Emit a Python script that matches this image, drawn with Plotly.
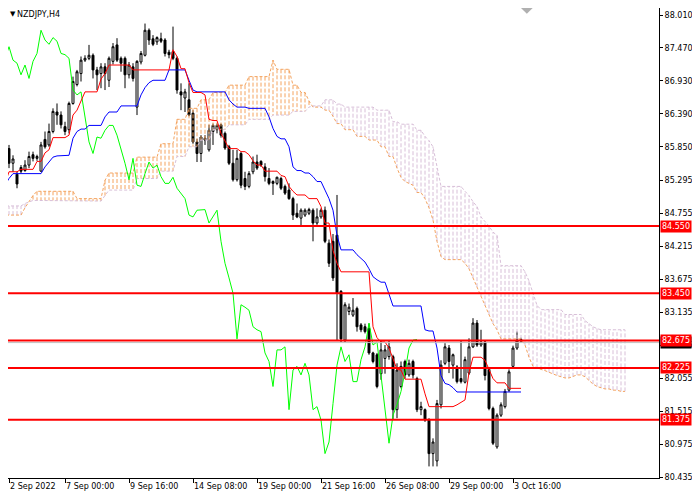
import plotly.graph_objects as go

# H4 candles, bar 0 = 2 Sep 2022 08:00
opens = [
    85.44, 85.44, 85.82, 85.58, 85.40, 85.51, 85.46, 85.55, 85.72, 85.66,
    85.45, 85.97, 85.88, 86.10, 86.42, 86.37, 86.18, 86.13, 86.56, 86.87,
    87.05, 87.27, 87.30, 87.35, 87.11, 87.05, 87.16, 86.94, 87.25, 87.52,
    87.30, 87.30, 87.03, 87.16, 86.50, 87.24, 87.35, 87.76, 87.62, 87.57,
    87.62, 87.60, 87.40, 87.41, 87.30, 86.75, 86.65, 86.62, 86.40, 85.93,
    85.74, 85.96, 85.80, 86.10, 86.13, 86.21, 86.07, 85.85, 85.58, 85.31,
    85.74, 85.33, 85.20, 85.44, 85.60, 85.61, 85.52, 85.33, 85.28, 85.25,
    85.33, 85.20, 85.14, 85.00, 84.76, 84.68, 84.73, 84.76, 84.81, 84.60,
    84.70, 84.81, 84.27, 84.30, 84.40, 83.48, 82.68, 83.15, 83.09, 83.20,
    82.93, 82.90, 82.87, 82.47, 82.44, 82.13, 82.38, 82.41, 82.41, 81.54,
    81.92, 82.33, 82.11, 82.33, 82.05, 81.54, 81.54, 81.37, 80.82, 80.70,
    81.62, 82.30, 82.55, 82.27, 82.24, 82.05, 81.99, 82.14, 82.57, 82.96,
    82.60, 82.65, 82.20, 81.56, 80.93, 81.45, 81.59, 81.86, 82.25, 82.55,
    82.67,
]
highs = [
    85.47, 85.85, 85.88, 85.71, 85.44, 85.55, 85.63, 85.77, 85.77, 85.72,
    85.93, 86.10, 86.23, 86.48, 86.56, 86.43, 86.26, 86.59, 87.00, 87.11,
    87.33, 87.35, 87.52, 87.38, 87.16, 87.22, 87.22, 87.33, 87.55, 87.63,
    87.33, 87.33, 87.24, 87.22, 87.27, 87.42, 87.87, 87.79, 87.68, 87.66,
    87.72, 87.63, 87.44, 87.82, 87.33, 86.89, 86.80, 86.89, 86.45, 85.98,
    86.04, 86.04, 86.21, 86.23, 86.23, 86.23, 86.10, 85.88, 85.80, 85.80,
    85.77, 85.44, 85.45, 85.69, 85.72, 85.63, 85.58, 85.50, 85.30, 85.36,
    85.36, 85.23, 85.25, 85.03, 84.92, 84.84, 84.84, 84.85, 84.84, 84.84,
    84.84, 84.87, 84.33, 84.42, 85.06, 83.50, 83.30, 83.28, 83.37, 83.23,
    82.96, 82.95, 82.95, 82.49, 82.47, 82.68, 82.60, 82.68, 82.44, 82.30,
    82.33, 82.36, 82.36, 82.36, 82.08, 81.67, 81.56, 81.40, 81.07, 81.70,
    82.35, 82.63, 82.60, 82.46, 82.27, 82.68, 82.41, 82.71, 83.04, 83.01,
    82.85, 82.68, 82.24, 81.59, 81.48, 81.66, 81.88, 82.20, 82.59, 82.82,
    82.72,
]
lows = [
    84.98, 85.41, 85.50, 85.44, 85.17, 85.42, 85.44, 85.50, 85.61, 85.62,
    85.44, 85.82, 85.85, 86.07, 86.21, 86.15, 86.04, 86.07, 86.54, 86.84,
    86.92, 87.24, 87.27, 86.97, 86.78, 86.81, 86.78, 86.83, 87.20, 87.24,
    87.08, 86.81, 86.97, 86.92, 86.37, 87.20, 87.33, 87.52, 87.50, 87.52,
    87.55, 87.33, 87.30, 87.27, 86.72, 86.45, 86.42, 86.35, 85.90, 85.60,
    85.60, 85.88, 85.77, 85.88, 86.07, 86.00, 85.80, 85.55, 85.28, 85.28,
    85.17, 85.14, 85.17, 85.40, 85.47, 85.52, 85.28, 85.22, 85.06, 85.22,
    85.14, 85.06, 84.98, 84.65, 84.68, 84.54, 84.70, 84.73, 84.30, 84.57,
    84.67, 84.27, 83.88, 83.65, 82.68, 82.65, 82.65, 83.09, 83.06, 82.82,
    82.81, 82.79, 82.44, 82.30, 81.89, 82.03, 82.13, 82.36, 81.37, 81.40,
    81.89, 82.05, 82.08, 82.05, 81.50, 81.45, 81.34, 80.61, 80.61, 80.61,
    81.56, 82.27, 82.14, 82.05, 81.97, 81.97, 81.97, 82.11, 82.55, 82.57,
    82.57, 82.02, 81.53, 80.96, 80.90, 81.42, 81.56, 81.83, 82.22, 82.52,
    82.64,
]
closes = [
    85.06, 85.82, 85.58, 85.65, 85.24, 85.45, 85.55, 85.69, 85.66, 85.69,
    85.88, 85.85, 86.10, 86.43, 86.37, 86.21, 86.10, 86.56, 86.92, 87.08,
    87.27, 87.30, 87.35, 87.11, 87.03, 87.16, 87.05, 87.30, 87.49, 87.27,
    87.22, 87.03, 87.19, 86.97, 87.25, 87.38, 87.76, 87.60, 87.53, 87.64,
    87.58, 87.38, 87.36, 87.30, 86.78, 86.70, 86.75, 86.37, 85.93, 85.74,
    86.01, 85.99, 86.12, 86.20, 86.20, 86.04, 85.83, 85.58, 85.31, 85.66,
    85.22, 85.20, 85.41, 85.60, 85.50, 85.55, 85.36, 85.25, 85.25, 85.35,
    85.17, 85.09, 85.00, 84.73, 84.70, 84.81, 84.81, 84.82, 84.60, 84.70,
    84.81, 84.30, 83.94, 83.70, 83.45, 82.70, 83.26, 83.22, 83.17, 82.90,
    82.85, 82.82, 82.47, 82.33, 81.92, 82.52, 82.52, 82.57, 81.54, 82.19,
    82.25, 82.11, 82.30, 82.11, 81.54, 81.59, 81.37, 80.82, 81.01, 81.64,
    82.27, 82.57, 82.33, 82.44, 82.00, 82.00, 82.36, 82.57, 82.96, 82.60,
    82.65, 82.10, 81.56, 80.99, 81.45, 81.62, 81.84, 82.16, 82.55, 82.68,
    82.69,
]

tenkan = [
    85.05, 85.25, 85.44, 85.44, 85.44, 85.48, 85.48, 85.48, 85.48, 85.61,
    85.61, 85.75, 85.80, 86.00, 86.00, 86.00, 86.00, 86.04, 86.37, 86.45,
    86.60, 86.75, 86.75, 86.75, 86.75, 86.96, 87.05, 87.19, 87.19, 87.19,
    87.19, 87.19, 87.19, 87.11, 87.11, 87.11, 87.11, 87.11, 87.11, 87.11,
    87.11, 87.11, 87.11, 87.44, 87.33, 87.13, 87.13, 86.90, 86.74, 86.74,
    86.74, 86.70, 86.30, 86.28, 86.28, 86.07, 85.95, 85.82, 85.82, 85.82,
    85.77, 85.77, 85.72, 85.62, 85.55, 85.55, 85.45, 85.45, 85.45, 85.45,
    85.38, 85.36, 85.20, 85.12, 85.06, 85.06, 85.06, 85.00, 85.00, 85.00,
    84.87, 84.60, 84.60, 84.15, 83.94, 83.80, 83.80, 83.80, 83.80, 83.80,
    83.80, 83.80, 83.80, 82.90, 82.72, 82.65, 82.65, 82.55, 82.38, 82.20,
    82.19, 82.04, 82.04, 82.04, 82.04, 82.04, 81.80, 81.59, 81.59, 81.59,
    81.59, 81.59, 81.59, 81.59, 81.62, 81.66, 81.70, 82.15, 82.40, 82.40,
    82.40, 82.35, 82.20, 82.05, 81.98, 81.98, 81.98, 81.89, 81.89, 81.89,
    81.89,
]
kijun = [
    85.11, 85.22, 85.33, 85.41, 85.41, 85.41, 85.41, 85.41, 85.41, 85.41,
    85.41, 85.52, 85.60, 85.68, 85.70, 85.70, 85.70, 85.71, 85.99, 86.10,
    86.14, 86.14, 86.20, 86.20, 86.20, 86.20, 86.34, 86.42, 86.42, 86.42,
    86.52, 86.52, 86.52, 86.52, 86.52, 86.70, 86.82, 86.90, 86.94, 86.94,
    86.94, 86.94, 87.11, 87.11, 87.11, 87.11, 87.11, 86.94, 86.78, 86.75,
    86.75, 86.75, 86.75, 86.75, 86.75, 86.75, 86.75, 86.62, 86.55, 86.50,
    86.50, 86.50, 86.48, 86.48, 86.48, 86.48, 86.48, 86.34, 86.15, 86.02,
    85.98, 85.98, 85.85, 85.52, 85.46, 85.46, 85.42, 85.42, 85.36, 85.28,
    85.28, 85.14, 85.00, 84.81, 84.40, 84.16, 84.16, 84.16, 84.16, 84.08,
    84.02, 83.96, 83.85, 83.72, 83.67, 83.63, 83.63, 83.45, 83.24, 83.24,
    83.24, 83.24, 83.24, 83.24, 83.24, 83.24, 82.85, 82.83, 82.83, 82.55,
    82.10, 81.97, 81.95, 81.90, 81.83, 81.83, 81.83, 81.83, 81.83, 81.83,
    81.83, 81.83, 81.83, 81.83, 81.83, 81.83, 81.83, 81.83, 81.83, 81.83,
    81.83,
]
# cloud runs 26 bars past the last candle
span_a = [
    84.73, 84.73, 84.73, 84.73, 84.73, 84.73, 84.85, 84.95, 85.05, 85.12,
    85.12, 85.12, 85.12, 85.12, 85.12, 85.12, 85.12, 85.12, 85.12, 85.00,
    85.00, 85.00, 85.00, 85.00, 85.00, 85.00, 85.30, 85.42, 85.42, 85.42,
    85.42, 85.42, 85.42, 85.42, 85.68, 85.68, 85.68, 85.68, 85.68, 85.68,
    85.90, 85.90, 85.90, 85.90, 86.30, 86.30, 86.30, 86.48, 86.48, 86.48,
    86.62, 86.62, 86.62, 86.74, 86.74, 86.74, 86.74, 86.86, 86.86, 86.86,
    86.86, 86.86, 87.00, 87.00, 87.00, 87.00, 87.00, 87.00, 87.27, 87.12,
    87.12, 87.12, 87.12, 86.86, 86.86, 86.74, 86.74, 86.60, 86.50, 86.50,
    86.50, 86.45, 86.45, 86.35, 86.23, 86.23, 86.13, 86.13, 86.13, 86.02,
    86.02, 86.02, 85.96, 85.96, 85.96, 85.85, 85.85, 85.69, 85.69, 85.50,
    85.35, 85.28, 85.25, 85.22, 85.10, 85.10, 85.00, 84.85, 84.65, 84.30,
    84.05, 84.00, 84.00, 84.00, 84.00, 84.00, 83.94, 83.85, 83.70, 83.55,
    83.40, 83.25, 83.10, 82.95, 82.85, 82.70, 82.70, 82.70, 82.70, 82.70,
    82.70, 82.60, 82.40, 82.25, 82.22, 82.20, 82.18, 82.15, 82.13, 82.10,
    82.08, 82.06, 82.06, 82.08, 82.11, 82.11, 82.08, 82.02, 81.96, 81.92,
    81.90, 81.88, 81.88, 81.86, 81.86, 81.84, 81.84,
]
span_b = [
    84.88, 84.88, 84.88, 84.88, 84.88, 84.88, 84.92, 84.95, 84.97, 84.97,
    84.97, 84.97, 84.97, 84.97, 84.97, 84.97, 84.97, 84.97, 84.97, 84.96,
    84.96, 84.96, 84.96, 84.96, 84.96, 84.96, 85.05, 85.14, 85.14, 85.14,
    85.14, 85.14, 85.14, 85.14, 85.33, 85.33, 85.33, 85.33, 85.33, 85.33,
    85.45, 85.45, 85.45, 85.45, 85.69, 85.69, 85.69, 85.85, 85.85, 85.85,
    85.96, 85.96, 85.96, 86.13, 86.13, 86.13, 86.13, 86.21, 86.21, 86.21,
    86.21, 86.21, 86.30, 86.30, 86.30, 86.30, 86.30, 86.30, 86.37, 86.37,
    86.37, 86.37, 86.37, 86.43, 86.43, 86.43, 86.43, 86.50, 86.52, 86.52,
    86.52, 86.62, 86.62, 86.62, 86.55, 86.55, 86.50, 86.50, 86.50, 86.50,
    86.50, 86.50, 86.50, 86.50, 86.45, 86.45, 86.45, 86.45, 86.26, 86.26,
    86.22, 86.22, 86.22, 86.22, 86.12, 86.12, 86.02, 85.95, 85.85, 85.50,
    85.20, 85.20, 85.20, 85.20, 85.20, 85.20, 85.12, 85.05, 84.95, 84.87,
    84.70, 84.62, 84.55, 84.45, 84.40, 83.90, 83.90, 83.90, 83.90, 83.90,
    83.90, 83.80, 83.65, 83.45, 83.25, 83.18, 83.18, 83.18, 83.18, 83.18,
    83.18, 83.10, 83.10, 83.10, 83.10, 83.10, 83.00, 82.95, 82.90, 82.87,
    82.85, 82.85, 82.85, 82.85, 82.85, 82.85, 82.85,
]

levels = [84.550, 83.450, 82.675, 82.225, 81.375]
bid = 82.640

price_ticks = [88.010, 87.470, 86.930, 86.390, 85.850, 85.295, 84.755, 84.215,
               83.675, 83.135, 82.595, 82.055, 81.515, 80.975, 80.435]
# first label sits on the first bar left visible in the window
time_ticks = [2, 16, 32, 48, 64, 80, 96, 112, 128]
time_labels = ["2 Sep 2022", "7 Sep 00:00", "9 Sep 16:00", "14 Sep 08:00",
               "19 Sep 00:00", "21 Sep 16:00", "26 Sep 08:00", "29 Sep 00:00",
               "3 Oct 16:00"]

SHIFT = 26
FONT = "DejaVu Sans"
HATCH = "4px,2px"

bars = list(range(len(closes)))

# vertical dotted hatch of the cloud, one stroke per bar
up_x, up_y, dn_x, dn_y = [], [], [], []
for i, (a, b) in enumerate(zip(span_a, span_b)):
    if a >= b:
        up_x += [i, i, None]
        up_y += [a, b, None]
    else:
        dn_x += [i, i, None]
        dn_y += [a, b, None]

fig = go.Figure()
fig.add_trace(go.Scatter(x=up_x, y=up_y, mode="lines",
                         line=dict(color="#F4A460", width=1, dash=HATCH)))
fig.add_trace(go.Scatter(x=dn_x, y=dn_y, mode="lines",
                         line=dict(color="#D8BFD8", width=1, dash=HATCH)))
cloud_x = list(range(len(span_a)))
fig.add_trace(go.Scatter(x=cloud_x, y=span_a, mode="lines",
                         line=dict(color="#F4A460", width=1, dash="3px,2px")))
fig.add_trace(go.Scatter(x=cloud_x, y=span_b, mode="lines",
                         line=dict(color="#D8BFD8", width=1, dash="3px,2px")))

fig.add_trace(go.Candlestick(
    x=bars, open=opens, high=highs, low=lows, close=closes,
    increasing=dict(line=dict(color="black", width=1), fillcolor="white"),
    decreasing=dict(line=dict(color="black", width=1), fillcolor="black"),
    whiskerwidth=0, hoverinfo="skip",
))

# chikou = closes drawn 26 bars back
fig.add_trace(go.Scatter(x=[b - SHIFT for b in bars[SHIFT:]], y=closes[SHIFT:],
                         mode="lines", line=dict(color="#00FF00", width=1)))
fig.add_trace(go.Scatter(x=bars, y=kijun, mode="lines",
                         line=dict(color="#0000FF", width=1)))
fig.add_trace(go.Scatter(x=bars, y=tenkan, mode="lines",
                         line=dict(color="#FF0000", width=1)))

shapes = [dict(type="line", xref="paper", x0=0, x1=1, yref="y", y0=bid, y1=bid,
               line=dict(color="#C0C0C0", width=1))]
for lv in levels:
    shapes.append(dict(type="line", xref="paper", x0=0, x1=1, yref="y", y0=lv, y1=lv,
                       line=dict(color="#FF0000", width=2)))
# little grey shift marker at the top
shapes.append(dict(type="path", xref="paper", yref="paper",
                   path="M 0.788 1 L 0.806 1 L 0.797 0.988 Z",
                   fillcolor="#B0B0B0", line=dict(width=0)))

annotations = [
    dict(xref="paper", yref="y", x=1, y=bid, xanchor="left", yanchor="middle", xshift=1,
         text=f"{bid:.3f}", showarrow=False, bgcolor="black", borderpad=1,
         font=dict(family=FONT, size=8, color="white")),
]
for lv in levels:
    annotations.append(dict(xref="paper", yref="y", x=1, y=lv, xanchor="left",
                            yanchor="middle", xshift=1, text=f"{lv:.3f}",
                            showarrow=False, bgcolor="#FF0000", borderpad=1,
                            font=dict(family=FONT, size=8, color="white")))
annotations.append(dict(xref="paper", yref="paper", x=0.0, y=1.0, xanchor="left",
                        yanchor="top", text="▼", showarrow=False,
                        font=dict(family=FONT, size=7, color="black")))
annotations.append(dict(xref="paper", yref="paper", x=0.011, y=1.0, xanchor="left",
                        yanchor="top", text="NZDJPY,H4", showarrow=False,
                        font=dict(family=FONT, size=8, color="black")))

# the page puts the figure 8px in from the top-left corner, so the figure is
# 8px smaller and the axis ranges start where the visible window starts
fig.update_layout(
    width=692, height=492,
    margin=dict(l=0, r=41, t=0, b=22),
    paper_bgcolor="white", plot_bgcolor="white",
    showlegend=False,
    shapes=shapes, annotations=annotations,
    xaxis=dict(range=[1.75, 164.5], tickvals=time_ticks, ticktext=time_labels,
               tickangle=0, automargin=False,
               ticks="outside", ticklen=4, tickcolor="black",
               ticklabelposition="outside right",
               showline=True, linecolor="black", linewidth=1,
               showgrid=False, zeroline=False, rangeslider=dict(visible=False),
               tickfont=dict(family=FONT, size=8, color="black")),
    yaxis=dict(range=[80.420, 88.125], side="right", tickvals=price_ticks,
               ticktext=[f"{p:.3f}" for p in price_ticks], automargin=False,
               ticks="outside", ticklen=3, tickcolor="black",
               showline=True, linecolor="black", linewidth=1,
               showgrid=False, zeroline=False,
               tickfont=dict(family=FONT, size=8, color="black")),
)

fig.write_html("out.html")
